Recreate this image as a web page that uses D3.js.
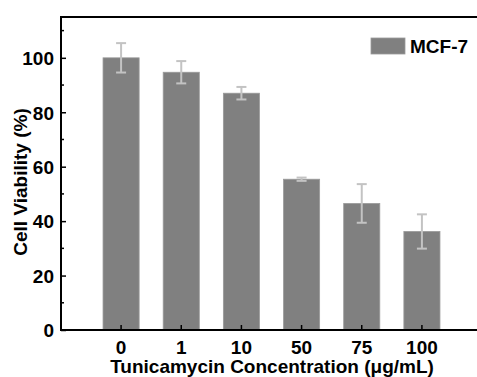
<!DOCTYPE html>
<html>
<head>
<meta charset="utf-8">
<script src="https://cdn.jsdelivr.net/npm/d3@7/dist/d3.min.js"></script>
<style>
  html, body { margin: 0; padding: 0; background: #fff; }
  svg { display: block; }
  text { font-family: "Liberation Sans", Arial, sans-serif; font-weight: bold; fill: #000; }
</style>
</head>
<body>
<script>
// Tunicamycin dose vs. MCF-7 viability
const concentrations = ["0", "1", "10", "50", "75", "100"];
const viability = [100, 94.7, 87.0, 55.4, 46.5, 36.2];
const errors = [5.4, 4.1, 2.3, 0.6, 7.1, 6.3];
const yMajorTicks = [0, 20, 40, 60, 80, 100];
const yMinorTicks = [10, 30, 50, 70, 90, 110];
const seriesName = "MCF-7";

const W = 477, H = 377;
const margin = { left: 61, top: 17, bottom: 47 };

const svg = d3.select("body").append("svg").attr("width", W).attr("height", H);

const x = d3.scaleBand()
  .domain(concentrations)
  .range([91, 452])
  .paddingInner(0.4)
  .paddingOuter(0.2);

const y = d3.scaleLinear().domain([0, 115]).range([H - margin.bottom, margin.top]);

const barColor = "#808080";
const errColor = "#c3c3c3";

// bars
svg.append("g").selectAll("rect")
  .data(viability)
  .join("rect")
  .attr("x", (d, i) => x(concentrations[i]))
  .attr("y", d => y(d))
  .attr("width", x.bandwidth())
  .attr("height", d => y(0) - y(d))
  .attr("fill", barColor)
  .attr("stroke", "#9a9a9a")
  .attr("stroke-width", 0.8);

// error bars
const eb = svg.append("g").attr("stroke", errColor).attr("stroke-width", 2);
viability.forEach((v, i) => {
  const cx = x(concentrations[i]) + x.bandwidth() / 2;
  const capW = 5;
  eb.append("line").attr("x1", cx).attr("x2", cx).attr("y1", y(v + errors[i])).attr("y2", y(v - errors[i]));
  eb.append("line").attr("x1", cx - capW).attr("x2", cx + capW).attr("y1", y(v + errors[i])).attr("y2", y(v + errors[i]));
  eb.append("line").attr("x1", cx - capW).attr("x2", cx + capW).attr("y1", y(v - errors[i])).attr("y2", y(v - errors[i]));
});

// y axis (ticks point into the plot)
const yAxis = svg.append("g")
  .attr("transform", `translate(${margin.left},0)`)
  .call(d3.axisRight(y).tickValues(yMajorTicks).tickSize(5).tickFormat(d3.format("d")));
yAxis.select(".domain").remove();
yAxis.selectAll(".tick line").attr("stroke", "#000").attr("stroke-width", 1.5);
yAxis.selectAll(".tick text")
  .attr("x", -7).attr("text-anchor", "end").attr("dy", "0.36em")
  .style("font-size", "19px");

svg.append("g").selectAll("line")
  .data(yMinorTicks)
  .join("line")
  .attr("x1", margin.left).attr("x2", margin.left + 3)
  .attr("y1", d => y(d)).attr("y2", d => y(d))
  .attr("stroke", "#000").attr("stroke-width", 1.5);

// x axis (ticks point up)
const xAxis = svg.append("g")
  .attr("transform", `translate(0,${y(0)})`)
  .call(d3.axisTop(x).tickSize(5));
xAxis.select(".domain").remove();
xAxis.selectAll(".tick line").attr("stroke", "#000").attr("stroke-width", 1.5);
xAxis.selectAll(".tick text")
  .attr("y", 24).attr("dy", 0)
  .style("font-size", "19px");

// frame: left, top, bottom lines running to the right edge
svg.append("path")
  .attr("d", `M${W + 5},${margin.top} H${margin.left} V${y(0)} H${W + 5}`)
  .attr("fill", "none").attr("stroke", "#000").attr("stroke-width", 2);

// axis titles
svg.append("text")
  .attr("x", 272).attr("y", 373)
  .attr("text-anchor", "middle")
  .style("font-size", "19px")
  .text("Tunicamycin Concentration (μg/mL)");

svg.append("text")
  .attr("transform", "translate(27,182) rotate(-90)")
  .attr("text-anchor", "middle")
  .style("font-size", "19px")
  .text("Cell Viability (%)");

// legend
const lg = svg.append("g");
lg.append("rect").attr("x", 371).attr("y", 38).attr("width", 34).attr("height", 16)
  .attr("fill", barColor).attr("stroke", "#9a9a9a").attr("stroke-width", 0.8);
lg.append("text").attr("x", 410).attr("y", 53).style("font-size", "19px").text(seriesName);
</script>
</body>
</html>
